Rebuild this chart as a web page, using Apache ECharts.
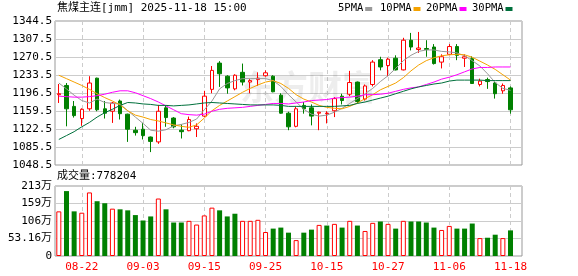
<!DOCTYPE html>
<html>
<head>
<meta charset="utf-8">
<script src="https://cdn.jsdelivr.net/npm/echarts@6/dist/echarts.min.js"></script>
<style>
  html, body { margin: 0; padding: 0; background: #fff; }
  #kline { width: 578px; height: 276px; }
</style>
</head>
<body>
<div id="kline"></div>
<script>
  // 交易日
  var dates = ['08-19', '08-20', '08-21', '08-22', '08-25', '08-26', '08-27', '08-28', '08-29',
    '09-01', '09-02', '09-03', '09-04', '09-05', '09-08', '09-09', '09-10', '09-11', '09-12',
    '09-15', '09-16', '09-17', '09-18', '09-19', '09-22', '09-23', '09-24', '09-25', '09-26',
    '09-29', '09-30', '10-09', '10-10', '10-13', '10-14', '10-15', '10-16', '10-17', '10-20',
    '10-21', '10-22', '10-23', '10-24', '10-27', '10-28', '10-29', '10-30', '10-31', '11-03',
    '11-04', '11-05', '11-06', '11-07', '11-10', '11-11', '11-12', '11-13', '11-14', '11-17', '11-18'];

  // [开, 收, 低, 高]
  var kData = [
    [1193, 1195, 1176, 1215], [1212, 1164, 1128, 1217], [1169, 1150, 1146, 1180], [1144, 1163, 1129, 1165],
    [1164, 1217, 1160, 1231], [1227, 1162, 1159, 1228], [1164, 1155, 1144, 1180], [1159, 1176, 1135, 1178],
    [1180, 1154, 1142, 1183], [1153, 1122, 1096, 1154], [1120, 1115, 1109, 1127], [1122, 1109, 1101, 1135],
    [1106, 1097, 1075, 1107], [1096, 1159, 1092, 1172], [1166, 1146, 1127, 1171], [1145, 1127, 1124, 1147],
    [1120, 1117, 1103, 1132], [1119, 1142, 1118, 1148], [1123, 1128, 1106, 1134], [1149, 1190, 1147, 1201],
    [1204, 1243, 1196, 1252], [1258, 1236, 1209, 1262], [1231, 1207, 1195, 1233], [1205, 1233, 1202, 1235],
    [1239, 1219, 1212, 1257], [1219, 1222, 1196, 1225], [1224, 1227, 1211, 1239], [1232, 1238, 1230, 1243],
    [1231, 1199, 1198, 1233], [1192, 1155, 1154, 1196], [1155, 1127, 1120, 1158], [1128, 1164, 1126, 1168],
    [1171, 1164, 1154, 1178], [1166, 1149, 1130, 1173], [1155, 1157, 1120, 1158], [1154, 1155, 1134, 1159],
    [1160, 1185, 1147, 1188], [1190, 1181, 1173, 1195], [1194, 1218, 1190, 1242], [1219, 1179, 1175, 1220],
    [1184, 1211, 1181, 1214], [1214, 1260, 1210, 1264], [1265, 1250, 1243, 1271], [1253, 1266, 1231, 1269],
    [1268, 1244, 1243, 1274], [1244, 1305, 1243, 1310], [1305, 1291, 1284, 1320], [1286, 1289, 1279, 1322],
    [1288, 1286, 1271, 1305], [1291, 1257, 1255, 1297], [1260, 1271, 1247, 1276], [1276, 1292, 1274, 1297],
    [1292, 1274, 1264, 1297], [1268, 1271, 1250, 1276], [1267, 1216, 1215, 1272], [1214, 1221, 1210, 1226],
    [1224, 1220, 1205, 1228], [1217, 1195, 1185, 1219], [1201, 1212, 1195, 1216], [1207, 1162, 1154, 1210]
  ];

  var ma5 = [1217, 1205, 1192, 1181, 1176, 1184, 1177, 1175, 1174, 1160,
    1147, 1134, 1120, 1118, 1121, 1129, 1132, 1136, 1143, 1162,
    1180, 1205, 1216, 1222, 1226, 1226, 1226, 1226, 1222, 1210,
    1193, 1178, 1163, 1153, 1149, 1151, 1157, 1165, 1175, 1185,
    1195, 1206, 1220, 1232, 1247, 1263, 1274, 1282, 1285, 1285,
    1282, 1281, 1279, 1273, 1263, 1252, 1236, 1218, 1206, 1202];
  var ma10 = [1233, 1226, 1219, 1212, 1204, 1195, 1187, 1180, 1172, 1160,
    1151, 1147, 1142, 1139, 1135, 1131, 1128, 1126, 1131, 1145,
    1160, 1171, 1180, 1189, 1198, 1206, 1213, 1219, 1222, 1216,
    1206, 1193, 1184, 1178, 1171, 1167, 1165, 1164, 1169, 1176,
    1185, 1193, 1203, 1210, 1217, 1228, 1242, 1254, 1263, 1269,
    1273, 1275, 1276, 1275, 1270, 1262, 1254, 1245, 1234, 1223];
  var ma20 = [1190, 1189, 1188, 1188, 1189, 1191, 1194, 1198, 1201, 1201,
    1197, 1191, 1185, 1178, 1170, 1162, 1154, 1152, 1151, 1153,
    1159, 1163, 1165, 1166, 1167, 1169, 1171, 1173, 1175, 1175,
    1174, 1176, 1178, 1181, 1182, 1183, 1186, 1187, 1188, 1190,
    1193, 1193, 1194, 1196, 1200, 1204, 1207, 1209, 1214, 1219,
    1225, 1229, 1234, 1240, 1246, 1249, 1249, 1250, 1250, 1250];
  var ma30 = [1101, 1109, 1117, 1127, 1136, 1147, 1156, 1163, 1171, 1177,
    1176, 1174, 1173, 1171, 1171, 1170, 1171, 1172, 1174, 1176,
    1177, 1176, 1175, 1174, 1173, 1172, 1172, 1172, 1172, 1171,
    1169, 1169, 1169, 1169, 1169, 1169, 1169, 1170, 1171, 1175,
    1178, 1182, 1186, 1190, 1195, 1200, 1205, 1209, 1212, 1215,
    1217, 1221, 1223, 1223, 1223, 1223, 1222, 1222, 1222, 1222];

  // 成交量(手)
  var volumes = [1356000, 1972000, 1356000, 1315000, 1931000, 1664000, 1603000, 1438000, 1418000, 1387000,
    1243000, 1079000, 1202000, 1746000, 1418000, 1017000, 1017000, 1068000, 955000, 1233000,
    1469000, 1387000, 1202000, 1284000, 1068000, 1068000, 1099000, 729000, 832000, 863000,
    709000, 483000, 709000, 801000, 945000, 925000, 976000, 863000, 1068000, 925000,
    760000, 1007000, 1048000, 976000, 832000, 1068000, 1048000, 1048000, 1017000, 863000,
    791000, 914000, 832000, 832000, 986000, 544000, 555000, 647000, 544000, 778204];
  // 1 红 / 0 绿
  var volUp = [1, 0, 0, 1, 1, 0, 0, 1, 0, 0, 0, 0, 0, 1, 0, 0, 0, 1, 1, 1,
    1, 0, 0, 0, 1, 1, 1, 1, 0, 0, 0, 1, 0, 0, 1, 0, 1, 0, 1, 0,
    1, 1, 0, 1, 0, 1, 0, 0, 0, 0, 1, 1, 0, 0, 0, 1, 0, 0, 1, 0];

  var priceMin = 1048.5, priceMax = 1344.5, priceStep = 37;
  var volMax = 2126400;
  var volTickLabels = ['0', '53.16万', '106万', '159万', '213万'];
  var maNames = ['5PMA', '10PMA', '20PMA', '30PMA'];
  var maColors = ['#999999', '#f5a200', '#ff00ff', '#00703c'];

  var FONT = "'DejaVu Sans Mono','Noto Sans CJK SC',monospace";

  function showDate(idx) {
    return idx >= 3 && (idx - 3) % 8 === 0;
  }

  var volBars = volumes.map(function (v, i) {
    return {
      value: v,
      itemStyle: volUp[i] ? {color: '#fff', borderColor: '#ff0000', borderWidth: 1}
                          : {color: '#008000', borderColor: '#008000', borderWidth: 0}
    };
  });

  var maSeries = [ma5, ma10, ma20, ma30].map(function (arr, i) {
    return {
      name: maNames[i],
      type: 'line',
      data: arr,
      xAxisIndex: 0,
      yAxisIndex: 0,
      symbol: 'none',
      smooth: false,
      z: 3,
      itemStyle: {color: maColors[i]},
      lineStyle: {width: 1, color: maColors[i]}
    };
  });

  // 图例：文字 + 小方块
  var legendX = [338, 380, 426, 472];
  var legendItems = [];
  maNames.forEach(function (n, i) {
    var tw = n.length * 6.3;
    legendItems.push({
      type: 'text', left: legendX[i], top: 3, z: 10,
      style: {text: n, fill: '#000', font: '10.5px ' + FONT}
    });
    legendItems.push({
      type: 'rect', left: legendX[i] + tw + 2, top: 7, z: 10,
      shape: {width: 7, height: 4},
      style: {fill: maColors[i]}
    });
  });

  var myChart = echarts.init(document.getElementById('kline'), null, {renderer: 'canvas'});
  var option = {
    animation: false,
    backgroundColor: '#fff',
    textStyle: {fontFamily: FONT},
    graphic: [
      {
        type: 'text', left: 57, top: 3, z: 10,
        style: {text: '焦煤主连[jmm] 2025-11-18 15:00', fill: '#000', font: '11px ' + FONT}
      },
      {
        type: 'text', left: 57, top: 171, z: 10,
        style: {text: '成交量:778204', fill: '#000', font: '11px ' + FONT}
      },
      {
        type: 'text', left: 240, top: 70, z: 1, silent: true,
        style: {text: '东方财富', fill: 'rgba(0,0,0,0.07)', font: 'bold 34px "Noto Sans CJK SC"'}
      }
    ].concat(legendItems),
    grid: [
      {left: 55, top: 21, width: 467, height: 144, show: true, borderColor: '#999', borderWidth: 1, outerBoundsMode: 'none'},
      {left: 55, top: 186, width: 467, height: 70, show: true, borderColor: '#999', borderWidth: 1, outerBoundsMode: 'none'}
    ],
    xAxis: [
      {
        type: 'category', gridIndex: 0, data: dates, boundaryGap: true, max: 60,
        axisLine: {show: false}, axisTick: {show: false}, axisLabel: {show: false},
        splitLine: {show: true, interval: showDate, alignWithLabel: true,
          lineStyle: {color: '#cccccc', type: [4, 3], width: 1}}
      },
      {
        type: 'category', gridIndex: 1, data: dates, boundaryGap: true, max: 60,
        axisLine: {show: false}, axisTick: {show: false},
        axisLabel: {show: true, interval: showDate, color: '#ff0000', fontSize: 11, fontFamily: FONT, margin: 6},
        splitLine: {show: true, interval: showDate, alignWithLabel: true,
          lineStyle: {color: '#cccccc', type: [4, 3], width: 1}}
      }
    ],
    yAxis: [
      {
        type: 'value', gridIndex: 0, min: priceMin, max: priceMax, interval: priceStep,
        axisLine: {show: false}, axisTick: {show: false},
        axisLabel: {color: '#000', fontSize: 11, fontFamily: FONT, margin: 3,
          formatter: function (v) { return v.toFixed(1); }},
        splitLine: {show: true, lineStyle: {color: '#cccccc', width: 1}}
      },
      {
        type: 'value', gridIndex: 1, min: 0, max: volMax, interval: volMax / 4,
        axisLine: {show: false}, axisTick: {show: false},
        axisLabel: {color: '#000', fontSize: 11, fontFamily: FONT, margin: 3,
          formatter: function (v) { return volTickLabels[Math.round(v / (volMax / 4))]; }},
        splitLine: {show: true, lineStyle: {color: '#cccccc', width: 1}}
      }
    ],
    series: [
      {
        name: 'K',
        type: 'candlestick',
        xAxisIndex: 0,
        yAxisIndex: 0,
        data: kData,
        barWidth: 4,
        z: 2,
        itemStyle: {
          color: '#fff',
          color0: '#008000',
          borderColor: '#ff0000',
          borderColor0: '#008000',
          borderWidth: 1
        }
      }
    ].concat(maSeries).concat([
      {
        name: 'VOL',
        type: 'bar',
        xAxisIndex: 1,
        yAxisIndex: 1,
        barWidth: 5,
        data: volBars
      }
    ])
  };
  myChart.setOption(option);
</script>
</body>
</html>
